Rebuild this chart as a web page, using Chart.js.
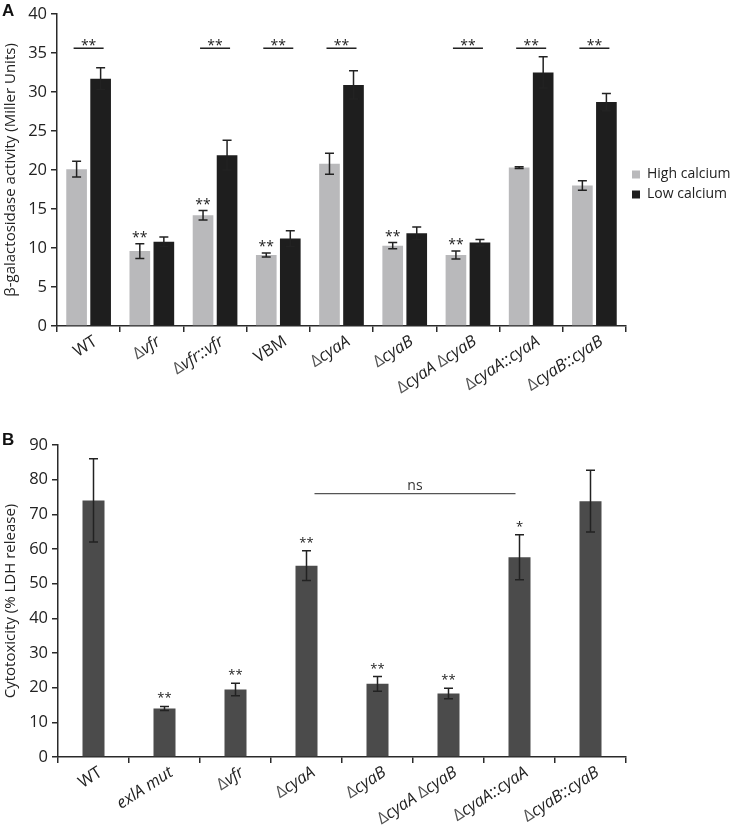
<!DOCTYPE html>
<html>
<head>
<meta charset="utf-8">
<script src="https://cdn.jsdelivr.net/npm/chart.js@4"></script>
<style>
  body { margin: 0; background: #fff; }
  #wrapA { position: absolute; left: 0; top: 0; width: 733px; height: 420px; }
  #wrapB { position: absolute; left: 0; top: 420px; width: 733px; height: 411px; }
</style>
</head>
<body>
<div id="wrapA"><canvas id="chartA" width="733" height="420"></canvas></div>
<div id="wrapB"><canvas id="chartB" width="733" height="411"></canvas></div>
<script>
// panel A data
const strainsA = ['WT', 'Δvfr', 'Δvfr::vfr', 'VBM', 'ΔcyaA', 'ΔcyaB', 'ΔcyaA ΔcyaB', 'ΔcyaA::cyaA', 'ΔcyaB::cyaB'];
const highCalcium = [20.1, 9.6, 14.2, 9.1, 20.8, 10.3, 9.1, 20.3, 18.0];
const highCalciumErr = [1.0, 0.95, 0.6, 0.25, 1.35, 0.4, 0.5, 0.1, 0.6];
const lowCalcium = [31.7, 10.8, 21.9, 11.2, 30.9, 11.9, 10.7, 32.5, 28.7];
const lowCalciumErr = [1.4, 0.6, 1.9, 1.0, 1.8, 0.8, 0.4, 2.0, 1.1];
const sigPairA = [true, false, true, true, true, false, true, true, true];
const starsHighA = ['', '**', '**', '**', '', '**', '**', '', ''];

// panel B data
const strainsB = ['WT', 'exlA mut', 'Δvfr', 'ΔcyaA', 'ΔcyaB', 'ΔcyaA ΔcyaB', 'ΔcyaA::cyaA', 'ΔcyaB::cyaB'];
const cytotoxicity = [74.0, 14.0, 19.5, 55.2, 21.1, 18.3, 57.6, 73.8];
const cytotoxicityErr = [12.0, 0.6, 1.8, 4.3, 2.1, 1.5, 6.5, 8.9];
const starsB = ['', '**', '**', '**', '**', '**', '*', ''];
const nsFrom = 3, nsTo = 6, nsLevel = 76;

const FONT = '"Open Sans", "Noto Sans", sans-serif';
const AXIS = '#2a2a2a';

// error bars for every dataset that has an err array
const errorBars = {
  id: 'errorBars',
  afterDatasetsDraw(chart) {
    const ctx = chart.ctx, y = chart.scales.y;
    ctx.save();
    ctx.strokeStyle = '#222';
    ctx.lineWidth = 1.5;
    chart.data.datasets.forEach((ds, di) => {
      if (!ds.err) return;
      chart.getDatasetMeta(di).data.forEach((bar, i) => {
        const top = y.getPixelForValue(ds.data[i] + ds.err[i]);
        const bot = y.getPixelForValue(ds.data[i] - ds.err[i]);
        const cw = 4.5;
        ctx.beginPath();
        ctx.moveTo(bar.x, top); ctx.lineTo(bar.x, bot);
        ctx.moveTo(bar.x - cw, top); ctx.lineTo(bar.x + cw, top);
        ctx.moveTo(bar.x - cw, bot); ctx.lineTo(bar.x + cw, bot);
        ctx.stroke();
      });
    });
    ctx.restore();
  }
};

// x labels with italic gene names
function drawLabel(ctx, text, size) {
  const parts = text.split(/(Δ|::| )/).filter(s => s.length);
  const segs = parts.map(p => {
    const italic = /^[A-Za-z]+$/.test(p) && p !== 'WT' && p !== 'VBM';
    const f = (italic ? 'italic ' : '') + size + 'px ' + FONT;
    ctx.font = f;
    return { p, f, w: ctx.measureText(p).width };
  });
  let x = -segs.reduce((a, s) => a + s.w, 0);
  segs.forEach(s => {
    ctx.font = s.f;
    ctx.fillStyle = s.p === 'Δ' ? '#555' : '#222';
    ctx.fillText(s.p, x, 0);
    x += s.w;
  });
}

const xLabels = {
  id: 'xLabels',
  afterDraw(chart) {
    const ctx = chart.ctx, xs = chart.scales.x;
    ctx.save();
    ctx.textAlign = 'left';
    ctx.textBaseline = 'middle';
    chart.data.labels.forEach((lab, i) => {
      const x = xs.getPixelForTick(i);
      ctx.save();
      ctx.translate(x + 7, xs.top + 14);
      ctx.rotate(-33 * Math.PI / 180);
      drawLabel(ctx, lab, 16.5);
      ctx.restore();
    });
    ctx.restore();
  }
};

const panelLetter = {
  id: 'panelLetter',
  afterDraw(chart, args, opts) {
    const ctx = chart.ctx;
    ctx.save();
    ctx.font = 'bold 17px "Liberation Sans", Arial, sans-serif';
    ctx.fillStyle = '#111';
    ctx.textBaseline = 'top';
    ctx.fillText(opts.text, opts.x, opts.y);
    ctx.restore();
  }
};

// centre the legend on the plot rather than the whole canvas
const legendShift = {
  id: 'legendShift',
  afterLayout(chart, args, opts) {
    if (chart.legend) chart.legend.bottom -= opts.up;
  }
};

// significance marks panel A
const sigA = {
  id: 'sigA',
  afterDraw(chart) {
    const ctx = chart.ctx, y = chart.scales.y;
    const hi = chart.getDatasetMeta(0).data, lo = chart.getDatasetMeta(1).data;
    ctx.save();
    ctx.fillStyle = '#222';
    ctx.strokeStyle = '#222';
    ctx.lineWidth = 1.5;
    ctx.textAlign = 'center';
    ctx.textBaseline = 'alphabetic';
    ctx.font = '14px ' + FONT;
    const ly = y.getPixelForValue(35.6);
    sigPairA.forEach((on, i) => {
      if (!on) return;
      const x0 = hi[i].x - 3, x1 = lo[i].x + 3;
      ctx.beginPath(); ctx.moveTo(x0, ly); ctx.lineTo(x1, ly); ctx.stroke();
      ctx.fillText('**', (x0 + x1) / 2, ly + 2);
    });
    starsHighA.forEach((s, i) => {
      if (!s) return;
      const cap = y.getPixelForValue(highCalcium[i] + highCalciumErr[i]);
      ctx.fillText(s, hi[i].x, cap - 2);
    });
    ctx.restore();
  }
};

// significance marks panel B
const sigB = {
  id: 'sigB',
  afterDraw(chart) {
    const ctx = chart.ctx, y = chart.scales.y;
    const bars = chart.getDatasetMeta(0).data;
    ctx.save();
    ctx.fillStyle = '#222';
    ctx.textAlign = 'center';
    ctx.textBaseline = 'alphabetic';
    ctx.font = '13px ' + FONT;
    starsB.forEach((s, i) => {
      if (!s) return;
      const cap = y.getPixelForValue(cytotoxicity[i] + cytotoxicityErr[i]);
      ctx.fillText(s, bars[i].x, cap - 4);
    });
    const ly = y.getPixelForValue(nsLevel);
    const x0 = chart.scales.x.getPixelForTick(nsFrom) + 8;
    const x1 = chart.scales.x.getPixelForTick(nsTo) - 4;
    ctx.strokeStyle = '#555';
    ctx.lineWidth = 1.2;
    ctx.beginPath(); ctx.moveTo(x0, ly); ctx.lineTo(x1, ly); ctx.stroke();
    ctx.font = '14px ' + FONT;
    ctx.fillStyle = '#333';
    ctx.fillText('ns', (x0 + x1) / 2, ly - 4);
    ctx.restore();
  }
};

function yAxis(max, step, title, width) {
  return {
    min: 0, max: max,
    ticks: { stepSize: step, color: '#222', font: { family: FONT, size: 16.5 }, padding: 4 },
    grid: { drawOnChartArea: false, drawTicks: true, tickLength: 6, color: AXIS, lineWidth: 1.5 },
    border: { color: AXIS, width: 1.5 },
    title: { display: true, text: title, color: '#222', font: { family: FONT, size: 15 }, padding: 2 },
    afterFit(s) { s.width = width; }
  };
}

function xAxis(height) {
  return {
    ticks: { color: 'rgba(0,0,0,0)', autoSkip: false, minRotation: 30, maxRotation: 30, font: { family: FONT, size: 15 } },
    grid: { offset: true, drawOnChartArea: false, drawTicks: true, tickLength: 6, color: AXIS, lineWidth: 1.5 },
    border: { color: AXIS, width: 1.5 },
    afterFit(s) { s.height = height; }
  };
}

Chart.defaults.font.family = FONT;
Chart.defaults.color = '#222';

new Chart(document.getElementById('chartA'), {
  type: 'bar',
  data: {
    labels: strainsA,
    datasets: [
      { label: 'High calcium', data: highCalcium, err: highCalciumErr, backgroundColor: '#b9b9bb' },
      { label: 'Low calcium', data: lowCalcium, err: lowCalciumErr, backgroundColor: '#1e1e1e' }
    ]
  },
  options: {
    responsive: false,
    devicePixelRatio: 1,
    animation: false,
    categoryPercentage: 0.76,
    barPercentage: 0.86,
    layout: { padding: { top: 13, right: 0, bottom: 0, left: 0 } },
    scales: {
      x: xAxis(94),
      y: yAxis(40, 5, 'β-galactosidase activity (Miller Units)', 57)
    },
    plugins: {
      legend: {
        position: 'right',
        maxWidth: 107,
        labels: { boxWidth: 8, boxHeight: 8, padding: 6, color: '#222', font: { family: FONT, size: 14 } }
      },
      tooltip: { enabled: false },
      legendShift: { up: 64 },
      panelLetter: { text: 'A', x: 2, y: 3 }
    }
  },
  plugins: [errorBars, xLabels, sigA, panelLetter, legendShift]
});

new Chart(document.getElementById('chartB'), {
  type: 'bar',
  data: {
    labels: strainsB,
    datasets: [
      { label: 'Cytotoxicity', data: cytotoxicity, err: cytotoxicityErr, backgroundColor: '#4b4b4b' }
    ]
  },
  options: {
    responsive: false,
    devicePixelRatio: 1,
    animation: false,
    categoryPercentage: 1,
    barPercentage: 0.31,
    layout: { padding: { top: 25, right: 107, bottom: 0, left: 0 } },
    scales: {
      x: xAxis(74),
      y: yAxis(90, 10, 'Cytotoxicity (% LDH release)', 58)
    },
    plugins: {
      legend: { display: false },
      tooltip: { enabled: false },
      panelLetter: { text: 'B', x: 2, y: 12 }
    }
  },
  plugins: [errorBars, xLabels, sigB, panelLetter]
});
</script>
</body>
</html>
